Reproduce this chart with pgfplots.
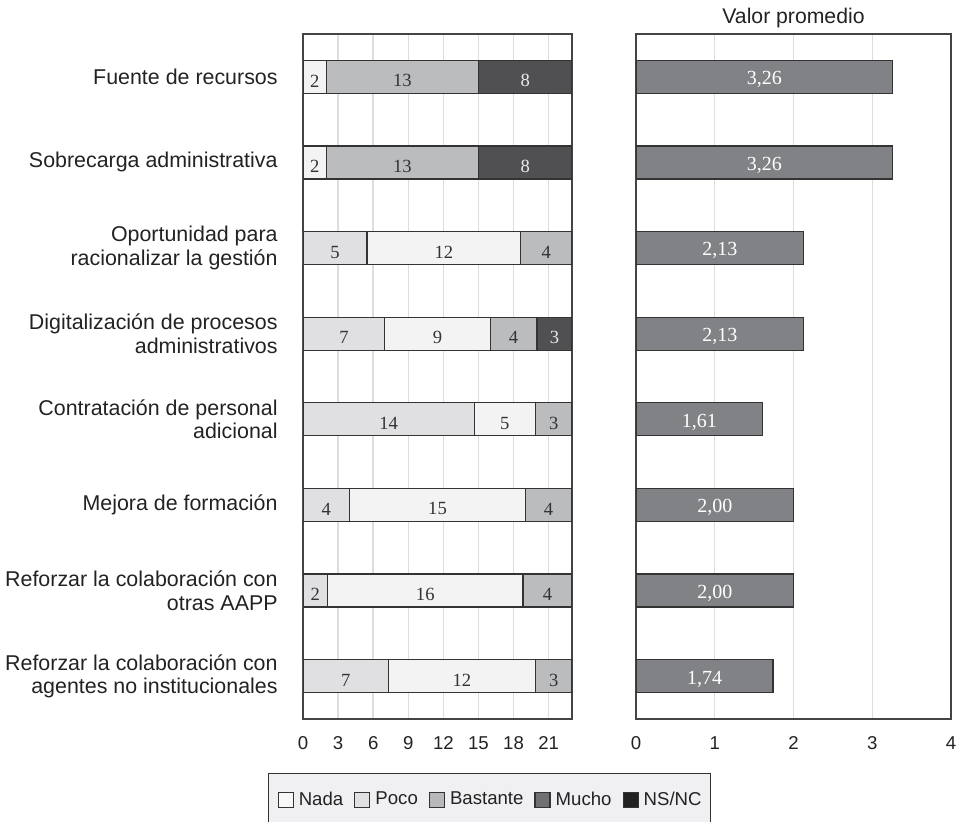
\documentclass[border=0pt]{standalone}
\usepackage{pgfplots}
\pgfplotsset{compat=1.18}
\usepackage{pgfplotstable}
\usepackage{fontspec}
\setmainfont{Liberation Sans}
\newfontfamily\serifnum{Liberation Serif}

\definecolor{segA}{HTML}{E0E0E2}
\definecolor{segB}{HTML}{F3F3F3}
\definecolor{segC}{HTML}{BBBCBE}
\definecolor{segD}{HTML}{505052}
\definecolor{meanbar}{HTML}{808285}
\definecolor{edge}{HTML}{333333}
\definecolor{frame}{HTML}{444444}
\definecolor{gridc}{HTML}{DDDDDD}
\definecolor{legbg}{HTML}{F0F0F2}
\definecolor{txt}{HTML}{222222}
\definecolor{lightlab}{HTML}{EAEAEA}
\definecolor{legNada}{HTML}{F8F8F8}
\definecolor{legPoco}{HTML}{E0E0E2}
\definecolor{legBastante}{HTML}{B8B8BC}
\definecolor{legMucho}{HTML}{707074}
\definecolor{legNSNC}{HTML}{222222}

% counts per item, in stacking order, and number of answers (T)
\pgfplotstableread{
r A  B  C  D T
1 0  2  13 8 23
2 0  2  13 8 23
3 5  12 4  0 21
4 7  9  4  3 23
5 14 5  3  0 22
6 4  15 4  0 23
7 2  16 4  0 22
8 7  12 3  0 22
}\counts

% mean value per item
\pgfplotstableread{
r v
1 3.26
2 3.26
3 2.13
4 2.13
5 1.61
6 2.00
7 2.00
8 1.74
}\means

\pgfplotsset{
  /pgf/number format/assume math mode=true,
  panel/.style={
    scale only axis, anchor=north west,
    height=342.5pt,
    ymin=0.5, ymax=8.5, y dir=reverse,
    major tick length=0pt,
    axis line style={frame, line width=0.6pt},
    xmajorgrids, major grid style={gridc, line width=0.7pt},
    xticklabel style={font=\fontsize{9.3pt}{9.3pt}\selectfont, text=txt,
      inner sep=0pt, anchor=north, yshift=-8.8pt},
  },
  overlay/.style={
    scale only axis, anchor=north west, height=342.5pt,
    ymin=0.5, ymax=8.5, y dir=reverse, hide axis,
  },
  % value labels, lowered so that the digits sit in the middle of the bar
  barlab/.style={
    draw=none, forget plot, nodes near coords, point meta=explicit,
    every node near coord/.append style={inner sep=0pt, yshift=-5.3pt,
      font=\serifnum\fontsize{9.3pt}{9.3pt}\selectfont, text=#1},
  },
}

% count labels, skipping empty segments
\newcommand\countlabel{\pgfmathfloatifflags{\pgfplotspointmeta}{0}{}%
  {\pgfmathprintnumber[fixed,precision=0]{\pgfplotspointmeta}}}

\begin{document}
\begin{tikzpicture}
\path[use as bounding box] (0pt,0pt) rectangle (480pt,-411pt);

% left panel: stacked answers, rescaled to the full bar length
\begin{axis}[panel,
  at={(151.5pt,-17pt)}, width=134.5pt,
  xmin=0, xmax=23, xtick={0,3,...,21},
  ytick={1,...,8},
  yticklabels={
    Fuente de recursos,
    Sobrecarga administrativa,
    {Oportunidad para\\racionalizar la gestión},
    {Digitalización de procesos\\administrativos},
    {Contratación de personal\\adicional},
    Mejora de formación,
    {Reforzar la colaboración con\\otras AAPP},
    {Reforzar la colaboración con\\agentes no institucionales}},
  yticklabel style={font=\fontsize{10.7pt}{11.7pt}\selectfont, text=txt,
    align=right, inner sep=0pt, anchor=east, xshift=-12.5pt},
  xbar stacked, bar width=16.5pt,
  every axis plot/.append style={draw=edge, line width=0.6pt},
]
\addplot[fill=segA] table[x expr={\thisrow{A}*23/\thisrow{T}}, y=r]{\counts};
\addplot[fill=segB] table[x expr={\thisrow{B}*23/\thisrow{T}}, y=r]{\counts};
\addplot[fill=segC] table[x expr={\thisrow{C}*23/\thisrow{T}}, y=r]{\counts};
\addplot[fill=segD] table[x expr={\thisrow{D}*23/\thisrow{T}}, y=r]{\counts};
\end{axis}

% left panel: segment values and legend
\begin{axis}[overlay,
  at={(151.5pt,-17pt)}, width=134.5pt,
  xmin=0, xmax=23,
  legend columns=5,
  legend cell align=left,
  legend image code/.code={\draw[#1, line width=0.6pt] (0pt,-3.75pt) rectangle (7.5pt,3.75pt);},
  legend style={at={(0,0)}, anchor=north west, xshift=-17.5pt, yshift=-27pt,
    draw=edge, line width=0.6pt, fill=legbg, text=txt,
    font=\fontsize{9.3pt}{9.3pt}\selectfont,
    inner xsep=4.5pt, inner ysep=9pt,
    nodes={inner sep=0pt},
    /tikz/every odd column/.style={column sep=2.5pt},
    /tikz/every even column/.style={column sep=5.5pt}},
]
\addlegendimage{fill=legNada, draw=edge}\addlegendentry{Nada}
\addlegendimage{fill=legPoco, draw=edge}\addlegendentry{Poco}
\addlegendimage{fill=legBastante, draw=edge}\addlegendentry{Bastante}
\addlegendimage{fill=legMucho, draw=edge}\addlegendentry{Mucho}
\addlegendimage{fill=legNSNC, draw=edge}\addlegendentry{NS/NC}
\addplot[barlab=edge, nodes near coords=\countlabel]
  table[x expr={(\thisrow{A}/2)*23/\thisrow{T}}, y=r, meta=A]{\counts};
\addplot[barlab=edge, nodes near coords=\countlabel]
  table[x expr={(\thisrow{A}+\thisrow{B}/2)*23/\thisrow{T}}, y=r, meta=B]{\counts};
\addplot[barlab=edge, nodes near coords=\countlabel]
  table[x expr={(\thisrow{A}+\thisrow{B}+\thisrow{C}/2)*23/\thisrow{T}}, y=r, meta=C]{\counts};
\addplot[barlab=lightlab, nodes near coords=\countlabel]
  table[x expr={(\thisrow{A}+\thisrow{B}+\thisrow{C}+\thisrow{D}/2)*23/\thisrow{T}}, y=r, meta=D]{\counts};
\end{axis}

% right panel: mean values
\begin{axis}[panel,
  at={(318pt,-17pt)}, width=157.5pt,
  xmin=0, xmax=4, xtick={0,...,4},
  ytick=\empty,
  title={Valor promedio},
  title style={font=\fontsize{10.6pt}{10.6pt}\selectfont, text=txt,
    inner sep=0pt, anchor=south, yshift=-3pt},
]
\addplot[xbar, bar width=16.5pt, fill=meanbar, draw=edge, line width=0.6pt]
  table[x=v, y=r]{\means};
\addplot[barlab=white, every node near coord/.append style={yshift=-0.4pt,
    font=\serifnum\fontsize{10pt}{10pt}\selectfont},
  nodes near coords={\pgfmathprintnumber[fixed,fixed zerofill,precision=2,use comma]{\pgfplotspointmeta}}]
  table[x expr={\thisrow{v}/2}, y=r, meta=v]{\means};
\end{axis}
\end{tikzpicture}
\end{document}
